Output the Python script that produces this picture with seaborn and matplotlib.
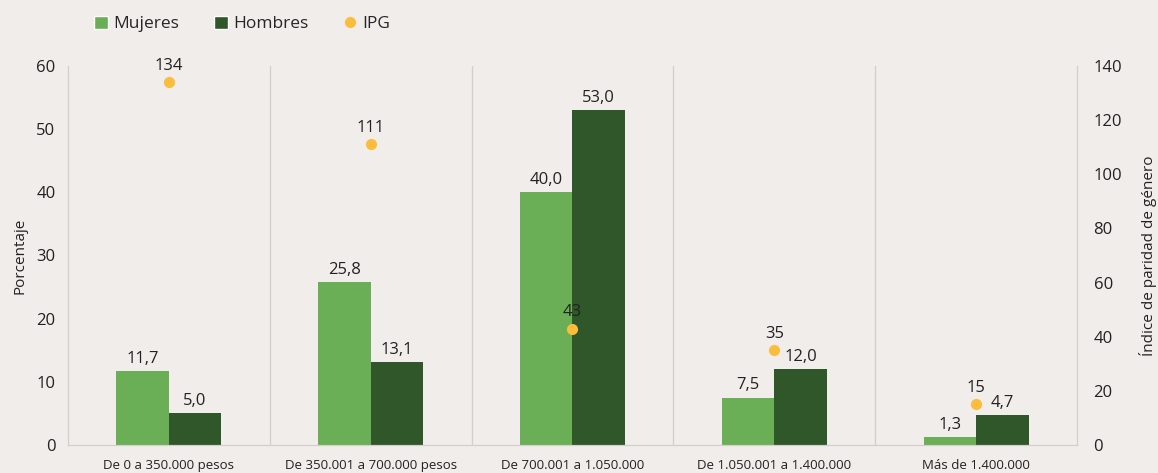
import pandas as pd
import numpy as np
import matplotlib
matplotlib.use("Agg")
import matplotlib.pyplot as plt
from matplotlib.patches import Patch
from matplotlib.lines import Line2D
from matplotlib.ticker import FixedLocator
import seaborn as sns

categorias = ["De 0 a 350.000 pesos", "De 350.001 a 700.000 pesos", "De 700.001 a 1.050.000",
              "De 1.050.001 a 1.400.000", "Más de 1.400.000"]
mujeres = [11.7, 25.8, 40.0, 7.5, 1.3]
hombres = [5.0, 13.1, 53.0, 12.0, 4.7]
ipg = [134, 111, 43, 35, 15]

bg = "#f0edea"
c_muj = "#6aaf55"
c_hom = "#2f5729"
c_ipg = "#fbbd3b"
gris = "#d3d0cc"

sns.set_style("white")
plt.rcParams['font.family'] = ['Open Sans', 'DejaVu Sans']

df = pd.DataFrame({"Categoria": categorias, "Mujeres": mujeres, "Hombres": hombres})
dd = pd.melt(df, id_vars=["Categoria"], value_vars=["Mujeres", "Hombres"], var_name="Sexo")

fig = plt.figure(figsize=(11.58, 4.73), dpi=100, facecolor=bg)
ax = fig.add_axes([0.0587, 0.0592, 0.8713, 0.8013])
ax.set_facecolor(bg)

sns.barplot(x="Categoria", y="value", hue="Sexo", data=dd, palette=[c_muj, c_hom],
            width=0.52, gap=0, saturation=1, linewidth=0, ax=ax, legend=False)
for cont in ax.containers:
    ax.bar_label(cont, labels=[f"{v:.1f}".replace(".", ",") for v in cont.datavalues],
                 padding=3, fontsize=12, color="#222222")

ax.set_ylim(0, 60)
ax.set_yticks(np.arange(0, 61, 10))
ax.set_xlim(-0.5, len(categorias) - 0.5)
ax.set_xlabel("")
ax.set_ylabel("Porcentaje", fontsize=11, color="#222222", labelpad=6)
ax.tick_params(axis="y", length=0, labelsize=12, colors="#222222", pad=9)
ax.tick_params(axis="x", length=0, pad=10)
ax.set_xticks(range(len(categorias)))
ax.set_xticklabels(categorias, fontsize=9.5, color="#222222")
ax.xaxis.set_minor_locator(FixedLocator(np.arange(0.5, len(categorias) - 1, 1.0)))
ax.grid(which="minor", axis="x", color=gris, linewidth=1)
ax.grid(which="major", visible=False)
ax.set_axisbelow(True)
for s in ["left", "right", "bottom"]:
    ax.spines[s].set_color(gris)
ax.spines["top"].set_visible(False)

ax2 = ax.twinx()
sns.pointplot(x=categorias, y=ipg, color=c_ipg, linestyle="none", markers="o",
              markersize=6, ax=ax2)
for i, v in enumerate(ipg):
    ax2.annotate(str(v), (i, v), xytext=(0, 6), textcoords="offset points",
                 ha="center", va="bottom", fontsize=12, color="#222222")
ax2.set_ylim(0, 140)
ax2.set_yticks(np.arange(0, 141, 20))
ax2.tick_params(axis="y", length=0, labelsize=12, colors="#222222", pad=12)
ax2.set_ylabel("Índice de paridad de género", fontsize=11, color="#222222", labelpad=12)
for s in ["left", "right", "bottom"]:
    ax2.spines[s].set_color(gris)
ax2.spines["top"].set_visible(False)
ax2.set_xlim(-0.5, len(categorias) - 0.5)

handles = [Patch(facecolor=c_muj, label="Mujeres"),
           Patch(facecolor=c_hom, label="Hombres"),
           Line2D([], [], marker="o", linestyle="none", color=c_ipg, markersize=7, label="IPG")]
fig.legend(handles=handles, loc="upper left", bbox_to_anchor=(0.068, 1.0), ncol=3,
           frameon=False, fontsize=12.5, handlelength=0.8, handleheight=0.8,
           handletextpad=0.3, columnspacing=2.0)

fig.savefig("out.png", dpi=100, facecolor=bg)
